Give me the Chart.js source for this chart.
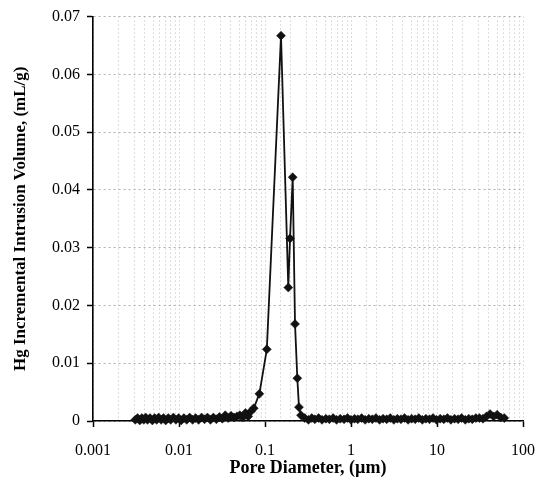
<!DOCTYPE html>
<html>
<head>
<meta charset="utf-8">
<script src="https://cdn.jsdelivr.net/npm/chart.js@4.4.1/dist/chart.umd.min.js"></script>
<style>
  html, body { margin: 0; padding: 0; background: #fff; }
  #wrap { width: 540px; height: 493px; }
</style>
</head>
<body>
<div id="wrap"><canvas id="c" width="540" height="493"></canvas></div>
<script>
// Pore diameters (µm)
const poreDiameter = [
  0.0031, 0.0033, 0.0035, 0.0037, 0.0039, 0.0041, 0.0043, 0.0046, 0.0049, 0.0052,
  0.0055, 0.0058, 0.0062, 0.0066, 0.0070, 0.0075, 0.0080, 0.0086, 0.0092, 0.0099,
  0.0106, 0.0114, 0.0123, 0.0133, 0.0144, 0.0156, 0.0169, 0.0183, 0.0198, 0.0214,
  0.0232, 0.0251, 0.0272, 0.0295, 0.0319, 0.0345, 0.0373, 0.0403, 0.0436, 0.0471,
  0.0509, 0.0549, 0.0592, 0.0638, 0.0687, 0.0740, 0.0860, 0.1050, 0.1535, 0.1866,
  0.1954, 0.2100, 0.2234, 0.2376, 0.2483, 0.2620, 0.2900, 0.3200, 0.3500, 0.3800,
  0.4200, 0.4600, 0.5100, 0.5600, 0.6200, 0.6800, 0.7500, 0.8300, 0.9100, 1.00,
  1.10, 1.20, 1.33, 1.46, 1.61, 1.77, 1.95, 2.15, 2.36, 2.60,
  2.86, 3.15, 3.46, 3.81, 4.19, 4.61, 5.07, 5.58, 6.14, 6.75,
  7.43, 8.17, 8.99, 9.89, 10.9, 12.0, 13.2, 14.5, 16.0, 17.6,
  19.3, 21.3, 23.4, 25.7, 28.3, 31.1, 34.2, 37.6, 41.4, 45.5,
  50.1, 55.1, 60.6
];
// Hg incremental intrusion volume (mL/g)
const intrusionVolume = [
  0.0002, 0.0005, 0.0001, 0.0005, 0.0002, 0.0006, 0.0002, 0.0005, 0.0001, 0.0005,
  0.0002, 0.0006, 0.0002, 0.0005, 0.0001, 0.0005, 0.0002, 0.0006, 0.0002, 0.0005,
  0.0001, 0.0005, 0.0002, 0.0006, 0.0002, 0.0005, 0.0002, 0.0006, 0.0003, 0.0006,
  0.0002, 0.0006, 0.0003, 0.0007, 0.0004, 0.0010, 0.0005, 0.0009, 0.0006, 0.0008,
  0.0010, 0.0006, 0.0014, 0.0008, 0.0017, 0.0022, 0.0047, 0.0124, 0.0667, 0.0231,
  0.0316, 0.0422, 0.0168, 0.0074, 0.0024, 0.0010, 0.0005, 0.0002, 0.0005, 0.0003,
  0.0005, 0.0002, 0.0004, 0.0003, 0.0005, 0.0002, 0.0004, 0.0003, 0.0005, 0.0002,
  0.0004, 0.0003, 0.0005, 0.0002, 0.0004, 0.0003, 0.0005, 0.0002, 0.0004, 0.0003,
  0.0005, 0.0002, 0.0004, 0.0003, 0.0005, 0.0002, 0.0004, 0.0003, 0.0005, 0.0002,
  0.0004, 0.0003, 0.0005, 0.0002, 0.0004, 0.0003, 0.0005, 0.0002, 0.0004, 0.0003,
  0.0005, 0.0002, 0.0004, 0.0003, 0.0005, 0.0005, 0.0004, 0.0008, 0.0012, 0.0008,
  0.0011, 0.0006, 0.0005
];
const xTickLabels = ['0.001', '0.01', '0.1', '1', '10', '100'];
const yTickLabels = ['0', '0.01', '0.02', '0.03', '0.04', '0.05', '0.06', '0.07'];
const xTitle = 'Pore Diameter, (\u00b5m)';
const yTitle = 'Hg Incremental Intrusion Volume, (mL/g)';

const points = poreDiameter.map((d, i) => ({ x: d, y: intrusionVolume[i] }));
const isDecade = v => { const l = Math.log10(v); return Math.abs(l - Math.round(l)) < 1e-6; };
const serif = 'Liberation Serif, Times New Roman, serif';

new Chart(document.getElementById('c'), {
  type: 'scatter',
  data: {
    datasets: [{
      data: points,
      showLine: true,
      borderColor: '#111',
      borderWidth: 1.8,
      pointStyle: 'rectRot',
      pointRadius: 4.5,
      pointBackgroundColor: '#111',
      pointBorderColor: '#111',
      pointBorderWidth: 0.5,
      clip: false,
      tension: 0
    }]
  },
  options: {
    responsive: false,
    animation: false,
    devicePixelRatio: 1,
    layout: { padding: { left: 4, right: 17, top: 13, bottom: 0 } },
    plugins: { legend: { display: false }, tooltip: { enabled: false } },
    scales: {
      x: {
        type: 'logarithmic',
        min: 0.001,
        max: 100,
        afterFit: s => { s.height = 72; },
        border: { display: true, color: '#000', width: 1.6, dash: [1, 3] },
        grid: {
          color: '#bdbdbd',
          lineWidth: 1,
          drawTicks: true,
          tickLength: 6,
          tickBorderDash: [],
          tickWidth: 1.5,
          tickColor: ctx => (ctx.tick && isDecade(ctx.tick.value)) ? '#000' : 'rgba(0,0,0,0)'
        },
        ticks: {
          autoSkip: false,
          maxRotation: 0,
          padding: 4,
          color: '#000',
          font: { family: serif, size: 16, lineHeight: 2.5 },
          callback: v => isDecade(v) ? xTickLabels[Math.round(Math.log10(v)) + 3] : ''
        },
        title: {
          display: true,
          text: xTitle,
          color: '#000',
          font: { family: serif, size: 18, weight: 'bold' },
          padding: { top: 0, bottom: 14 }
        }
      },
      y: {
        type: 'linear',
        min: 0,
        max: 0.07,
        afterFit: s => { s.width = 89; },
        border: { display: true, color: '#000', width: 1.6, dash: [2, 3] },
        grid: {
          color: '#b0b0b0',
          lineWidth: 1,
          drawTicks: true,
          tickLength: 6,
          tickBorderDash: [],
          tickWidth: 1.5,
          tickColor: '#000'
        },
        ticks: {
          stepSize: 0.01,
          padding: 7,
          color: '#000',
          font: { family: serif, size: 16 },
          callback: (v, i) => yTickLabels[i]
        },
        title: {
          display: true,
          text: yTitle,
          color: '#000',
          font: { family: serif, size: 17, weight: 'bold' },
          padding: { top: 6, bottom: 0 }
        }
      }
    }
  }
});
</script>
</body>
</html>
